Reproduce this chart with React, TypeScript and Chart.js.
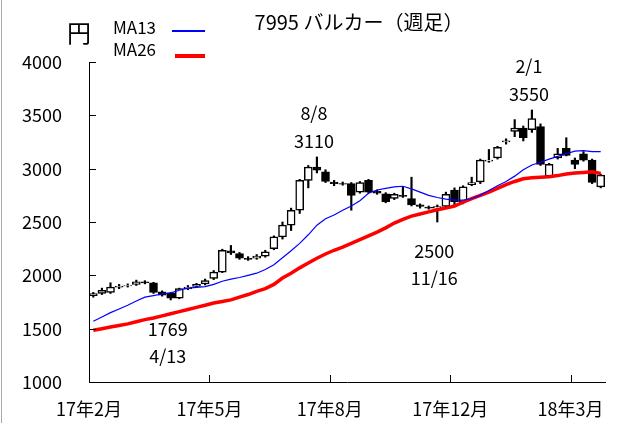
import { useEffect, useRef } from "react";
import { Chart, registerables } from "chart.js";

Chart.register(...registerables);

// Weekly candles (index 0 = week of 2017-02-10)
const opens = [1810, 1830, 1840, 1890, 1900, 1915, 1940, 1930, 1845, 1835, 1785, 1875, 1895, 1920, 1970, 2030, 2230, 2205, 2160, 2160, 2180, 2250, 2360, 2470, 2610, 2890, 3015, 2970, 2875, 2860, 2860, 2780, 2890, 2790, 2765, 2720, 2750, 2720, 2660, 2640, 2630, 2645, 2800, 2690, 2850, 2875, 3070, 3100, 3250, 3350, 3380, 3365, 3395, 2930, 3100, 3190, 3080, 3140, 3080, 2830];
const highs = [1840, 1880, 1930, 1915, 1920, 1955, 1950, 1935, 1855, 1840, 1880, 1905, 1925, 1965, 2045, 2245, 2280, 2215, 2175, 2195, 2235, 2370, 2500, 2630, 2900, 3030, 3110, 2990, 2890, 2875, 2870, 2880, 2900, 2800, 2775, 2770, 2830, 2920, 2670, 2650, 2660, 2780, 2820, 2840, 2920, 3090, 3180, 3210, 3280, 3460, 3400, 3550, 3420, 3050, 3190, 3290, 3100, 3160, 3090, 2950];
const lows = [1795, 1820, 1830, 1875, 1890, 1905, 1920, 1830, 1805, 1769, 1780, 1865, 1885, 1910, 1960, 2025, 2195, 2150, 2140, 2150, 2170, 2240, 2340, 2420, 2580, 2820, 2960, 2870, 2840, 2845, 2610, 2770, 2770, 2760, 2680, 2710, 2730, 2650, 2630, 2620, 2500, 2630, 2660, 2670, 2840, 2860, 3060, 3090, 3230, 3300, 3260, 3340, 3030, 2920, 3090, 3120, 3000, 3070, 2860, 2820];
const closes = [1830, 1860, 1890, 1900, 1905, 1940, 1930, 1840, 1815, 1785, 1875, 1890, 1915, 1950, 2030, 2235, 2210, 2160, 2150, 2180, 2220, 2360, 2470, 2610, 2890, 3016, 2985, 2880, 2860, 2855, 2750, 2870, 2780, 2770, 2690, 2760, 2740, 2660, 2645, 2630, 2645, 2760, 2690, 2830, 2870, 3080, 3080, 3200, 3260, 3380, 3290, 3470, 3040, 3040, 3140, 3125, 3040, 3080, 2870, 2940];

// Moving averages
const ma13 = [1570, 1610, 1650, 1685, 1720, 1760, 1795, 1810, 1825, 1835, 1860, 1880, 1888, 1895, 1915, 1945, 1965, 1980, 2000, 2020, 2055, 2100, 2165, 2230, 2300, 2380, 2470, 2530, 2565, 2610, 2650, 2700, 2770, 2800, 2815, 2830, 2835, 2810, 2780, 2750, 2730, 2715, 2705, 2705, 2720, 2750, 2795, 2840, 2880, 2930, 2990, 3035, 3060, 3090, 3115, 3140, 3165, 3170, 3160, 3160];
const ma26 = [1485, 1500, 1515, 1530, 1545, 1565, 1585, 1600, 1620, 1640, 1660, 1680, 1700, 1720, 1740, 1755, 1770, 1795, 1820, 1850, 1875, 1915, 1975, 2020, 2070, 2115, 2160, 2200, 2235, 2265, 2300, 2335, 2370, 2405, 2445, 2490, 2525, 2555, 2575, 2595, 2615, 2630, 2650, 2685, 2720, 2750, 2780, 2815, 2850, 2880, 2905, 2915, 2920, 2925, 2935, 2950, 2960, 2965, 2970, 2955];

const xTickPositions = [0, 14, 28, 42, 56];
const xTickLabels = ["17年2月", "17年5月", "17年8月", "17年12月", "18年3月"];
const yTicks = [1000, 1500, 2000, 2500, 3000, 3500, 4000];

const annotIndex = [9, 26, 40, 51];
const annotValue = [1769, 3110, 2500, 3550];
const annotDate = ["4/13", "8/8", "11/16", "2/1"];
const annotBelow = [true, false, true, false];

const titleText = "7995 バルカー（週足）";
const unitText = "円";
const legendLabels = ["MA13", "MA26"];

const FONT = "'Noto Sans CJK JP', 'Noto Sans', sans-serif";

export default function App() {
  const ref = useRef<HTMLCanvasElement>(null);

  useEffect(() => {
    document.body.style.margin = "0";
    const canvas = ref.current;
    if (!canvas) return;

    const xs = opens.map((_, i) => i + 0.5);
    const bodyData = xs.map((x, i) => ({ x, y: [opens[i], closes[i]] }));
    const wickData = xs.map((x, i) => ({ x, y: [lows[i], highs[i]] }));
    const bodyColors = opens.map((o, i) => (closes[i] >= o ? "#ffffff" : "#000000"));

    const overlay = {
      id: "overlay",
      afterDraw(chart: any) {
        const ctx = chart.ctx as CanvasRenderingContext2D;
        const sx = chart.scales.x;
        const sy = chart.scales.y;
        const ca = chart.chartArea;
        ctx.save();
        ctx.strokeStyle = "#a8a8a8";
        ctx.lineWidth = 1;
        ctx.beginPath();
        ctx.moveTo(1.5, 0);
        ctx.lineTo(1.5, 423);
        ctx.stroke();

        ctx.strokeStyle = "#000";
        yTicks.forEach((v) => {
          const y = Math.round(sy.getPixelForValue(v)) + 0.5;
          ctx.beginPath();
          ctx.moveTo(ca.left, y);
          ctx.lineTo(ca.left + 7, y);
          ctx.stroke();
        });
        xTickPositions.slice(1).forEach((v) => {
          const x = Math.round(sx.getPixelForValue(v)) + 0.5;
          ctx.beginPath();
          ctx.moveTo(x, ca.bottom);
          ctx.lineTo(x, ca.bottom - 7);
          ctx.stroke();
        });

        ctx.fillStyle = "#000";
        ctx.textBaseline = "middle";
        ctx.textAlign = "center";

        ctx.font = `20px ${FONT}`;
        ctx.fillText(titleText, 359, 22);
        ctx.font = `24px ${FONT}`;
        ctx.fillText(unitText, 79, 33);

        ctx.font = `17px ${FONT}`;
        ctx.textAlign = "left";
        ctx.fillText(legendLabels[0], 113, 28);
        ctx.fillText(legendLabels[1], 113, 50);
        ctx.strokeStyle = "#0000ff";
        ctx.lineWidth = 2;
        ctx.beginPath();
        ctx.moveTo(172, 31);
        ctx.lineTo(205, 31);
        ctx.stroke();
        ctx.strokeStyle = "#ff0000";
        ctx.lineWidth = 4;
        ctx.beginPath();
        ctx.moveTo(175, 56);
        ctx.lineTo(205, 56);
        ctx.stroke();

        ctx.font = `18px ${FONT}`;
        ctx.textAlign = "center";
        annotIndex.forEach((idx, k) => {
          const x = sx.getPixelForValue(idx + 0.5) - 3;
          const y = sy.getPixelForValue(annotValue[k]);
          if (annotBelow[k]) {
            ctx.fillText(String(annotValue[k]), x, y + 29);
            ctx.fillText(annotDate[k], x, y + 56);
          } else {
            ctx.fillText(annotDate[k], x, y - 44);
            ctx.fillText(String(annotValue[k]), x, y - 16);
          }
        });
        ctx.restore();
      },
    };

    const chart = new Chart(canvas, {
      type: "bar",
      data: {
        datasets: [
          {
            type: "line",
            label: "MA13",
            data: xs.map((x, i) => ({ x, y: ma13[i] })),
            borderColor: "#0000ff",
            borderWidth: 1.2,
            pointRadius: 0,
            tension: 0,
            order: -2,
          } as any,
          {
            type: "line",
            label: "MA26",
            data: xs.map((x, i) => ({ x, y: ma26[i] })),
            borderColor: "#ff0000",
            borderWidth: 3.5,
            pointRadius: 0,
            tension: 0,
            order: -1,
          } as any,
          {
            type: "bar",
            label: "body",
            data: bodyData as any,
            backgroundColor: bodyColors,
            borderColor: "#000000",
            borderWidth: 1.5,
            borderSkipped: false,
            barThickness: 8,
            grouped: false,
            order: 0,
          } as any,
          {
            type: "bar",
            label: "wick",
            data: wickData as any,
            backgroundColor: "#000000",
            borderWidth: 0,
            barThickness: 1.5,
            grouped: false,
            order: 1,
          } as any,
        ],
      },
      options: {
        responsive: false,
        animation: false,
        events: [],
        layout: { padding: { left: 0, top: 62, right: 13, bottom: 0 } },
        plugins: { legend: { display: false }, tooltip: { enabled: false }, title: { display: false } },
        scales: {
          x: {
            type: "linear",
            min: 0,
            max: 60,
            offset: false,
            grid: { display: false, drawTicks: false },
            border: { display: true, color: "#000", width: 1 },
            afterBuildTicks: (s: any) => {
              s.ticks = xTickPositions.map((v) => ({ value: v }));
            },
            afterFit: (s: any) => {
              s.height = 41;
              s.paddingLeft = 0;
              s.paddingRight = 0;
            },
            ticks: {
              autoSkip: false,
              maxRotation: 0,
              padding: 16,
              color: "#000",
              font: { family: FONT, size: 18 },
              callback: (v: any) => {
                const k = xTickPositions.indexOf(Number(v));
                return k >= 0 ? xTickLabels[k] : "";
              },
            },
          },
          y: {
            type: "linear",
            min: 1000,
            max: 4000,
            grid: { display: false, drawTicks: false },
            border: { display: true, color: "#000", width: 1 },
            afterBuildTicks: (s: any) => {
              s.ticks = yTicks.map((v) => ({ value: v }));
            },
            afterFit: (s: any) => {
              s.width = 89;
              s.paddingTop = 0;
              s.paddingBottom = 0;
            },
            ticks: {
              padding: 27,
              color: "#000",
              font: { family: FONT, size: 18 },
              callback: (v: any) => String(v),
            },
          },
        },
      } as any,
      plugins: [overlay],
    });

    return () => chart.destroy();
  }, []);

  return (
    <div style={{ position: "relative", width: 618, height: 423, background: "#fff" }}>
      <canvas ref={ref} width={618} height={423} style={{ display: "block" }} />
    </div>
  );
}
